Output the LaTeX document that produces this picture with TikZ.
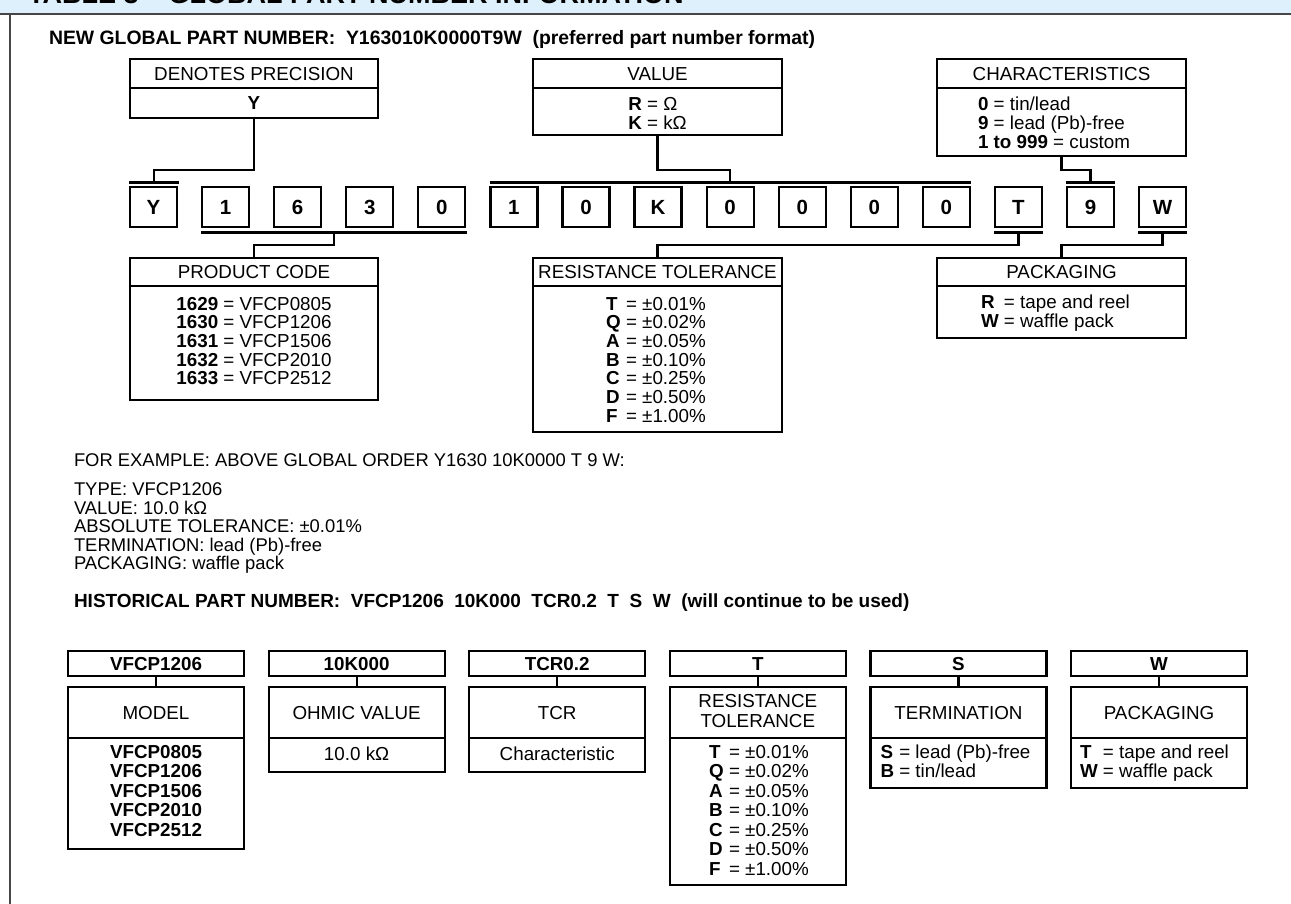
\documentclass[tikz,border=0pt]{standalone}
\usepackage{fontspec}
\setmainfont{Liberation Sans}
\usetikzlibrary{calc}
\definecolor{bandblue}{RGB}{222,240,251}
\definecolor{framegray}{RGB}{70,70,70}
\newcommand{\txtA}{\fontsize{18.8}{18.5}\selectfont}
\newcommand{\txtE}{\fontsize{18.4}{18.5}\selectfont}
\newcommand{\txtP}{\fontsize{18.8}{19}\selectfont}
\newcommand{\txtH}{\fontsize{18.8}{19.5}\selectfont}
\newcommand{\digf}{\fontsize{20.5}{20.5}\selectfont\bfseries}
\tikzset{
  frm/.style={draw, line width=2.2pt, inner sep=0pt, outer sep=0pt, anchor=north west, font=\txtA, text height=13.5pt, text depth=0pt},
  digit/.style={draw, line width=2.2pt, inner sep=0pt, outer sep=0pt, minimum width=47pt, minimum height=40pt, font=\digf, text height=14.7pt, text depth=0pt},
  bar/.style={fill=black, inner sep=0pt, outer sep=0pt, minimum height=3.2pt},
  wire/.style={line width=2.2pt},
  lst/.style={inner sep=0pt, outer sep=0pt, font=\txtA},
  para/.style={inner sep=0pt, outer sep=0pt, anchor=base west, font=\txtE},
}
\begin{document}
\begin{tikzpicture}[x=1pt, y=-1pt]
\useasboundingbox (0,0) rectangle (1291,904);
\fill[white] (0,0) rectangle (1291,904);
% header band
\fill[bandblue] (0,0) rectangle (1291,14);
\begin{scope}
\clip (0,0) rectangle (1291,13);
\node[anchor=base west, inner sep=0pt, font=\fontsize{27}{27}\selectfont\bfseries] (ttl) at (28,4) {TABLE 3 -- GLOBAL PART NUMBER INFORMATION};
\end{scope}
\draw[framegray, line width=2pt] (0,14) -- (1291,14);
\draw[framegray, line width=2pt] (10,14) -- (10,904);

% new global part number
\node[para, font=\fontsize{19.4}{19}\selectfont\bfseries] (ng) at (49,45) {NEW GLOBAL PART NUMBER:\ \ Y163010K0000T9W\ \ (preferred part number format)};

% top boxes
\node[frm, minimum width=248pt, minimum height=29pt] (dpH) at (130,59) {DENOTES PRECISION};
\node[frm, minimum width=248pt, minimum height=30pt, font=\txtA\bfseries] (dpB) at (130,88) {Y};
\node[frm, minimum width=249pt, minimum height=29pt] (valH) at (533,59) {VALUE};
\node[frm, minimum width=249pt, minimum height=47pt] (valB) at (533,88) {};
\node[lst, anchor=north] (valT) at (657.5,97) {\begin{tabular}{@{}l@{}}\textbf{R} = Ω\\ \textbf{K} = kΩ\end{tabular}};
\node[frm, minimum width=249pt, minimum height=29pt] (chH) at (937,59) {CHARACTERISTICS};
\node[frm, minimum width=249pt, minimum height=68pt] (chB) at (937,88) {};
\node[lst, anchor=north west] (chT) at (978,97) {\begin{tabular}{@{}l@{}}\textbf{0} = tin/lead\\ \textbf{9} = lead (Pb)-free\\ \textbf{1 to 999} = custom\end{tabular}};

% digit boxes
\foreach \c [count=\i from 0] in {Y,1,6,3,0,1,0,K,0,0,0,0,T,9,W}
  \node[digit] (d\i) at ({153.5+72.08*\i},207) {\c};

% bars
\node[bar, minimum width=50pt] (barY) at (154,182.3) {};
\node[bar, minimum width=481.5pt] (barVal) at (730.25,182.3) {};
\node[bar, minimum width=49pt] (barChr) at (1090.5,182.3) {};
\node[bar, minimum width=265.5pt] (barPC) at (333.75,232.5) {};
\node[bar, minimum width=49pt] (barT) at (1018.5,232.5) {};
\node[bar, minimum width=49pt] (barW) at (1162.5,232.5) {};

\coordinate (rowA) at (0,170);
\coordinate (rowB) at (0,245);

% bottom boxes
\node[frm, minimum width=248pt, minimum height=28pt] (pcH) at (130,258) {PRODUCT CODE};
\node[frm, minimum width=248pt, minimum height=114pt] (pcB) at (130,286) {};
\node[lst, anchor=north] (pcT) at (254,297) {\begin{tabular}{@{}l@{}}\textbf{1629} = VFCP0805\\ \textbf{1630} = VFCP1206\\ \textbf{1631} = VFCP1506\\ \textbf{1632} = VFCP2010\\ \textbf{1633} = VFCP2512\end{tabular}};
\node[frm, minimum width=249pt, minimum height=28pt] (rtH) at (533,258) {RESISTANCE TOLERANCE};
\node[frm, minimum width=249pt, minimum height=146pt] (rtB) at (533,286) {};
\node[lst, anchor=north] (rtT) at (656,297) {\begin{tabular}{@{}l@{\ }l@{}}\textbf{T} & = ±0.01\%\\ \textbf{Q} & = ±0.02\%\\ \textbf{A} & = ±0.05\%\\ \textbf{B} & = ±0.10\%\\ \textbf{C} & = ±0.25\%\\ \textbf{D} & = ±0.50\%\\ \textbf{F} & = ±1.00\%\end{tabular}};
\node[frm, minimum width=249pt, minimum height=28pt] (pkH) at (937,258) {PACKAGING};
\node[frm, minimum width=249pt, minimum height=52pt] (pkB) at (937,286) {};
\node[lst, anchor=north west, font=\txtP] (pkT) at (981,294.7) {\begin{tabular}{@{}l@{\ }l@{}}\textbf{R} & = tape and reel\\ \textbf{W} & = waffle pack\end{tabular}};

% connectors
\draw[wire] (dpB.south) -- (dpB.south |- rowA) -| (barY.north);
\draw[wire] (valB.south) -- (valB.south |- rowA) -| (barVal.north);
\draw[wire] (chB.south) -- (chB.south |- rowA) -| (barChr.north);
\draw[wire] (barPC.south) -- (barPC.south |- rowB) -| (pcH.north);
\draw[wire] (barT.south) -- (barT.south |- rowB) -| (rtH.north);
\draw[wire] (barW.south) -- (barW.south |- rowB) -| (pkH.north);

% example text
\node[para] (ex0) at (74,466) {FOR EXAMPLE: ABOVE GLOBAL ORDER Y1630 10K0000 T 9 W:};
\node[para] (ex1) at (74,495) {TYPE: VFCP1206};
\node[para] (ex2) at (74,514) {VALUE: 10.0 kΩ};
\node[para] (ex3) at (74,532.5) {ABSOLUTE TOLERANCE: ±0.01\%};
\node[para] (ex4) at (74,551) {TERMINATION: lead (Pb)-free};
\node[para] (ex5) at (74,569.5) {PACKAGING: waffle pack};
\node[para, font=\fontsize{19}{19}\selectfont\bfseries] (hist) at (74,607) {HISTORICAL PART NUMBER:\ \ VFCP1206\ \ 10K000\ \ TCR0.2\ \ T\ \ S\ \ W\ \ (will continue to be used)};

% historical boxes
\node[frm, font=\txtA\bfseries, minimum width=176pt, minimum height=25pt] (m1) at (68,651) {VFCP1206};
\node[frm, minimum width=176pt, minimum height=51pt] (m2) at (68,687) {MODEL};
\node[frm, minimum width=176pt, minimum height=111pt] (m3) at (68,738) {};
\node[lst, anchor=north, font=\txtH\bfseries] (m3t) at (156,744.35) {\begin{tabular}{@{}l@{}}VFCP0805\\ VFCP1206\\ VFCP1506\\ VFCP2010\\ VFCP2512\end{tabular}};

\node[frm, font=\txtA\bfseries, minimum width=176pt, minimum height=25pt] (o1) at (268.6,651) {10K000};
\node[frm, minimum width=176pt, minimum height=51pt] (o2) at (268.6,687) {OHMIC VALUE};
\node[frm, minimum width=176pt, minimum height=34pt, text depth=3pt] (o3) at (268.6,738) {10.0 kΩ};

\node[frm, font=\txtA\bfseries, minimum width=176pt, minimum height=25pt] (t1) at (469.2,651) {TCR0.2};
\node[frm, minimum width=176pt, minimum height=51pt] (t2) at (469.2,687) {TCR};
\node[frm, minimum width=176pt, minimum height=34pt, text depth=3pt] (t3) at (469.2,738) {Characteristic};

\node[frm, font=\txtA\bfseries, minimum width=176pt, minimum height=25pt] (r1) at (669.8,651) {T};
\node[frm, minimum width=176pt, minimum height=51pt] (r2) at (669.8,687) {};
\node[lst, anchor=north, align=center, font=\fontsize{18.8}{20}\selectfont] (r2t) at (757.8,694.5) {RESISTANCE\\TOLERANCE};
\node[frm, minimum width=176pt, minimum height=147pt] (r3) at (669.8,738) {};
\node[lst, anchor=north, font=\txtH] (r3t) at (759,744.35) {\begin{tabular}{@{}l@{\ }l@{}}\textbf{T} & = ±0.01\%\\ \textbf{Q} & = ±0.02\%\\ \textbf{A} & = ±0.05\%\\ \textbf{B} & = ±0.10\%\\ \textbf{C} & = ±0.25\%\\ \textbf{D} & = ±0.50\%\\ \textbf{F} & = ±1.00\%\end{tabular}};

\node[frm, font=\txtA\bfseries, minimum width=176pt, minimum height=25pt] (s1) at (870.4,651) {S};
\node[frm, minimum width=176pt, minimum height=51pt] (s2) at (870.4,687) {TERMINATION};
\node[frm, minimum width=176pt, minimum height=50pt] (s3) at (870.4,738) {};
\node[lst, anchor=north west, font=\txtH] (s3t) at (880.5,744.35) {\begin{tabular}{@{}l@{\ }l@{}}\textbf{S} & = lead (Pb)-free\\ \textbf{B} & = tin/lead\end{tabular}};

\node[frm, font=\txtA\bfseries, minimum width=176pt, minimum height=25pt] (w1) at (1071,651) {W};
\node[frm, minimum width=176pt, minimum height=51pt] (w2) at (1071,687) {PACKAGING};
\node[frm, minimum width=176pt, minimum height=50pt] (w3) at (1071,738) {};
\node[lst, anchor=north west, font=\txtH] (w3t) at (1080,744.35) {\begin{tabular}{@{}l@{\ }l@{}}\textbf{T} & = tape and reel\\ \textbf{W} & = waffle pack\end{tabular}};

\foreach \a/\b in {m1/m2, o1/o2, t1/t2, r1/r2, s1/s2, w1/w2}
  \draw[wire] (\a.south) -- (\b.north);
\end{tikzpicture}
\end{document}
